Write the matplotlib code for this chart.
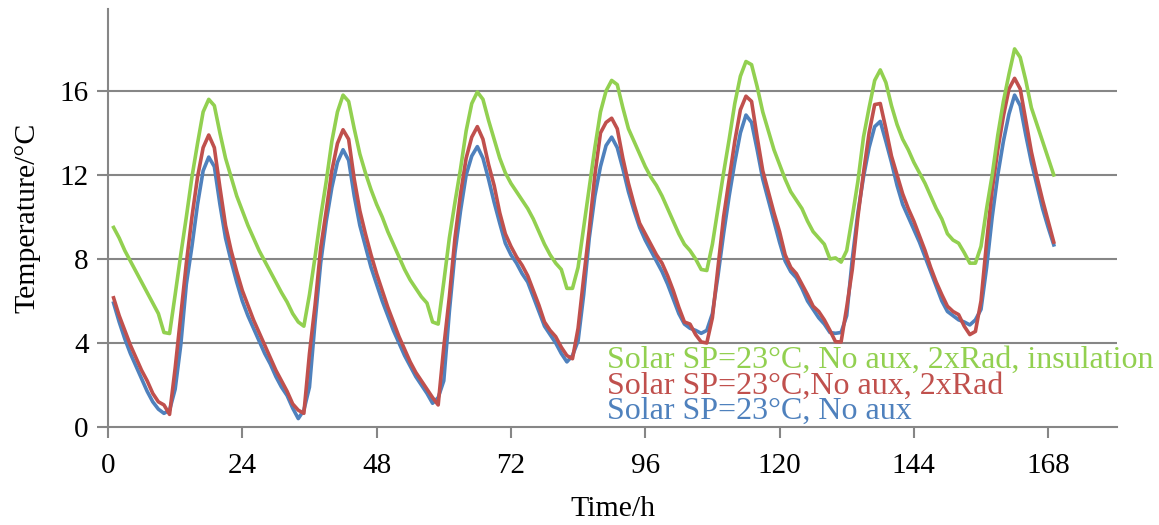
import numpy as np
import matplotlib
matplotlib.use("Agg")
import matplotlib.pyplot as plt

# hourly room temperature, hours 1..169
hours = np.arange(1, 170)

no_aux = [
    5.9, 5.0, 4.2, 3.5, 2.9, 2.3, 1.7, 1.2, 0.85, 0.65, 0.8, 1.8,
    3.9, 6.8, 8.6, 10.6, 12.2, 12.85, 12.4, 10.6, 9.0, 7.9, 6.9, 6.0,
    5.3, 4.7, 4.1, 3.5, 3.0, 2.4, 1.9, 1.5, 0.9, 0.4, 0.8, 1.9,
    5.0, 7.8, 9.8, 11.4, 12.6, 13.2, 12.7, 11.0, 9.6, 8.6, 7.6, 6.8,
    6.0, 5.3, 4.6, 4.0, 3.4, 2.9, 2.4, 2.0, 1.6, 1.13, 1.4, 2.2,
    5.5, 8.3, 10.3, 12.0, 12.9, 13.35, 12.8, 11.8, 10.7, 9.7, 8.75, 8.2,
    7.8, 7.3, 6.9, 6.2, 5.5, 4.8, 4.4, 4.0, 3.5, 3.1, 3.4, 4.1,
    6.3, 9.0, 11.0, 12.4, 13.4, 13.8, 13.3, 12.3, 11.2, 10.3, 9.5, 8.9,
    8.4, 7.9, 7.4, 6.8, 6.1, 5.4, 4.9, 4.7, 4.6, 4.46, 4.6, 5.4,
    7.2, 9.2, 11.0, 12.6, 14.0, 14.85, 14.5, 13.2, 11.8, 10.8, 9.8, 8.8,
    7.9, 7.4, 7.1, 6.6, 6.0, 5.6, 5.2, 4.9, 4.5, 4.46, 4.5, 5.3,
    8.0, 10.2, 11.9, 13.3, 14.3, 14.55, 13.6, 12.6, 11.5, 10.6, 10.0, 9.4,
    8.8, 8.1, 7.4, 6.7, 6.0, 5.5, 5.3, 5.1, 5.0, 4.86, 5.1, 5.6,
    7.6, 10.0, 12.0, 13.6, 14.9, 15.8, 15.3, 13.9, 12.6, 11.5, 10.4, 9.5,
    8.67,
]

two_rad = [
    6.15, 5.3, 4.6, 3.9, 3.3, 2.7, 2.2, 1.6, 1.2, 1.05, 0.6, 2.8,
    5.3, 7.8, 10.0, 11.9, 13.3, 13.9, 13.3, 11.4, 9.6, 8.4, 7.4, 6.5,
    5.8, 5.1, 4.5, 3.9, 3.3, 2.7, 2.2, 1.7, 1.1, 0.8, 0.65, 3.5,
    5.8, 8.5, 10.3, 12.2, 13.5, 14.15, 13.7, 11.8, 10.3, 9.2, 8.2, 7.3,
    6.5, 5.7, 5.0, 4.3, 3.7, 3.1, 2.6, 2.2, 1.8, 1.4, 1.05, 3.8,
    6.2, 9.0, 11.1, 12.8, 13.8, 14.3, 13.7, 12.5, 11.5, 10.2, 9.2, 8.6,
    8.1, 7.7, 7.2, 6.5, 5.8, 5.0, 4.6, 4.3, 3.8, 3.4, 3.25, 4.7,
    7.1, 9.4, 12.0, 14.0, 14.5, 14.7, 14.2, 12.8, 11.6, 10.6, 9.7, 9.2,
    8.7, 8.2, 7.8, 7.2, 6.5, 5.7, 5.0, 4.9, 4.4, 4.05, 4.0, 5.2,
    7.6, 10.0, 11.8, 13.6, 15.1, 15.75, 15.5, 13.8, 12.2, 11.2, 10.2, 9.3,
    8.2, 7.6, 7.3, 6.8, 6.3, 5.75, 5.5, 5.1, 4.6, 4.06, 4.05, 5.7,
    7.5, 10.0, 12.1, 14.0, 15.35, 15.4, 14.2, 12.9, 12.0, 11.1, 10.4, 9.8,
    9.1, 8.4, 7.6, 6.9, 6.3, 5.75, 5.5, 5.35, 4.8, 4.4, 4.55, 6.0,
    8.8, 11.3, 13.2, 14.8, 16.1, 16.6, 16.1, 14.6, 13.1, 11.9, 10.8, 9.8,
    8.8,
]

insulation = [
    9.5, 9.0, 8.4, 7.9, 7.4, 6.9, 6.4, 5.9, 5.4, 4.5, 4.45, 6.3,
    8.2, 10.0, 11.9, 13.5, 15.0, 15.6, 15.3, 14.0, 12.8, 11.9, 11.0, 10.3,
    9.6, 9.0, 8.4, 7.9, 7.4, 6.9, 6.4, 5.95, 5.4, 5.0, 4.8, 6.3,
    8.1, 10.0, 11.7, 13.6, 15.0, 15.8, 15.5, 14.2, 13.0, 12.1, 11.3, 10.6,
    10.0, 9.3, 8.7, 8.1, 7.5, 7.0, 6.6, 6.2, 5.9, 5.0, 4.9, 6.9,
    9.0, 10.7, 12.3, 14.1, 15.4, 15.95, 15.6, 14.6, 13.7, 12.8, 12.1, 11.6,
    11.2, 10.8, 10.4, 9.9, 9.3, 8.7, 8.2, 7.8, 7.5, 6.6, 6.6, 7.6,
    9.5, 11.4, 13.3, 15.0, 16.0, 16.5, 16.3, 15.2, 14.2, 13.6, 13.0, 12.4,
    11.9, 11.5, 11.0, 10.4, 9.8, 9.2, 8.7, 8.4, 8.0, 7.5, 7.45, 8.7,
    10.4, 12.1, 13.7, 15.4, 16.7, 17.4, 17.25, 16.2, 15.0, 14.1, 13.2, 12.5,
    11.8, 11.2, 10.8, 10.4, 9.8, 9.3, 9.0, 8.7, 8.0, 8.05, 7.85, 8.4,
    10.0, 11.7, 13.8, 15.2, 16.5, 17.0, 16.4, 15.3, 14.4, 13.7, 13.2, 12.6,
    12.1, 11.6, 11.0, 10.4, 9.9, 9.2, 8.9, 8.75, 8.3, 7.8, 7.8, 8.6,
    10.4, 12.0, 13.9, 15.5, 16.8, 18.0, 17.6, 16.5, 15.2, 14.4, 13.6, 12.8,
    12.0,
]

labels = ["Solar SP=23°C, No aux",
          "Solar SP=23°C,No aux, 2xRad",
          "Solar SP=23°C, No aux, 2xRad, insulation"]
colors = ["#4F81BD", "#C0504D", "#92D050"]
x_ticks = [0, 24, 48, 72, 96, 120, 144, 168]
y_ticks = [0, 4, 8, 12, 16]

plt.rcParams['font.family'] = ['Liberation Serif', 'DejaVu Serif']
grey = "#868686"

fig = plt.figure(figsize=(11.59, 5.25), dpi=100)
ax = fig.add_axes([108 / 1159, 98 / 525, 1009 / 1159, 418 / 525])

lines = []
for series, lab, col in zip([no_aux, two_rad, insulation], labels, colors):
    ln, = ax.plot(hours, series, color=col, lw=2.6, label=lab, zorder=3)
    lines.append(ln)

ax.set_xlim(0, 180.3)
ax.set_ylim(0, 19.9)
ax.set_xticks(x_ticks)
ax.set_yticks(y_ticks)
for t in y_ticks[1:]:
    ax.axhline(t, color=grey, lw=1.5, zorder=1)

for side in ['top', 'right']:
    ax.spines[side].set_visible(False)
for side in ['left', 'bottom']:
    ax.spines[side].set_color(grey)
    ax.spines[side].set_linewidth(1.5)
ax.tick_params(axis='both', colors=grey, width=1.5, length=8, labelsize=21,
               labelcolor='black')
ax.tick_params(axis='x', pad=11)
ax.tick_params(axis='y', pad=6)

ax.set_xlabel("Time/h", fontsize=21.5, labelpad=12)
ax.set_ylabel("Temperature/°C", fontsize=21.5, labelpad=14)

leg = ax.legend(lines[::-1], labels[::-1], loc='lower left',
                bbox_to_anchor=(0.479, -0.036), frameon=False, fontsize=23,
                handlelength=0, handletextpad=0, labelspacing=-0.12,
                borderpad=0, labelcolor=colors[::-1])
for h in leg.legend_handles:
    h.set_visible(False)

fig.savefig("out.png", dpi=100)
